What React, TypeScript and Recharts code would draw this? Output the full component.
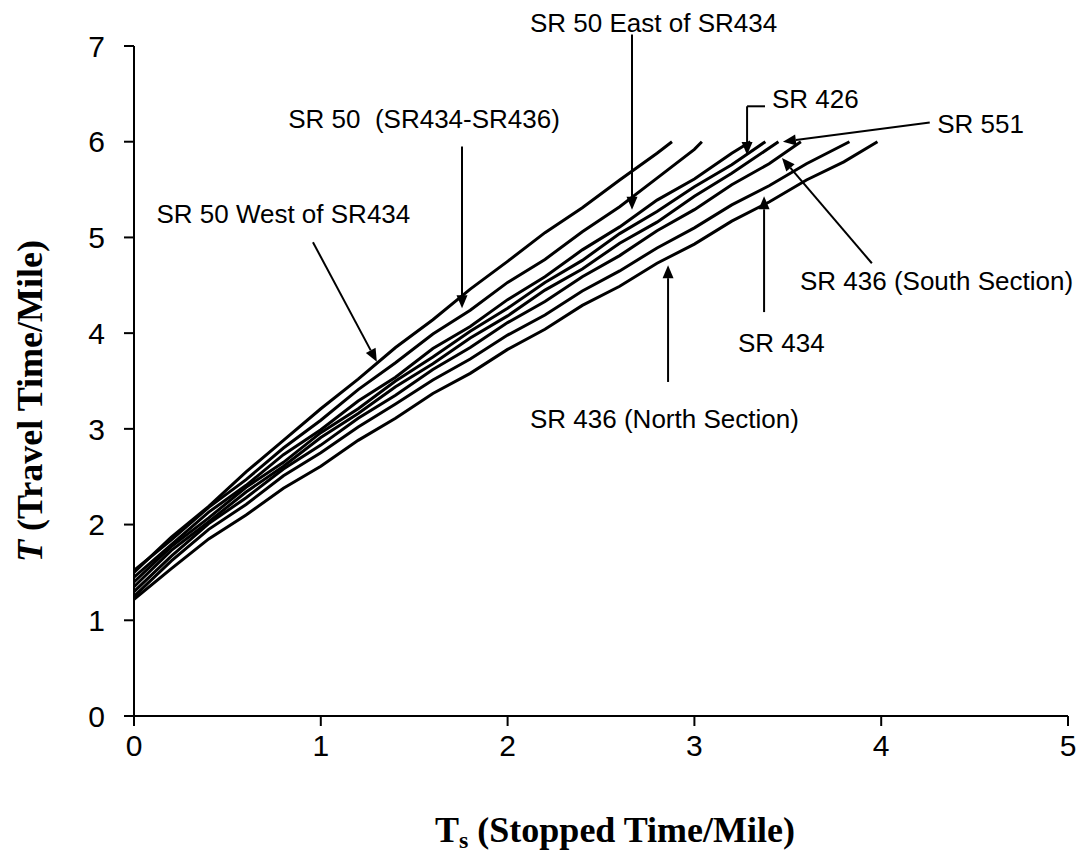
import React from 'react';
import { LineChart, Line, XAxis, YAxis, ReferenceLine, ReferenceDot } from 'recharts';

// ---- data (Ts = stopped time/mile, T = travel time/mile) ----
const westTs = [0, 0.2, 0.4, 0.6, 0.8, 1.0, 1.2, 1.4, 1.6, 1.8, 2.0, 2.2, 2.4, 2.6, 2.8, 2.88];
const westT = [1.50, 1.87, 2.19, 2.55, 2.88, 3.21, 3.52, 3.85, 4.14, 4.46, 4.75, 5.05, 5.31, 5.60, 5.88, 6.00];

const midTs = [0, 0.2, 0.4, 0.6, 0.8, 1.0, 1.2, 1.4, 1.6, 1.8, 2.0, 2.2, 2.4, 2.6, 2.8, 3.0, 3.04];
const midT = [1.52, 1.84, 2.18, 2.47, 2.80, 3.09, 3.41, 3.69, 3.99, 4.24, 4.53, 4.77, 5.06, 5.32, 5.62, 5.92, 6.00];

const eastTs = [0, 0.2, 0.4, 0.6, 0.8, 1.0, 1.2, 1.4, 1.6, 1.8, 2.0, 2.2, 2.4, 2.6, 2.8, 3.0, 3.2, 3.30];
const eastT = [1.45, 1.79, 2.13, 2.41, 2.73, 2.99, 3.29, 3.54, 3.84, 4.07, 4.35, 4.59, 4.87, 5.11, 5.39, 5.61, 5.88, 6.00];

const sr426Ts = [0, 0.2, 0.4, 0.6, 0.8, 1.0, 1.2, 1.4, 1.6, 1.8, 2.0, 2.2, 2.4, 2.6, 2.8, 3.0, 3.2, 3.38];
const sr426T = [1.40, 1.77, 2.07, 2.39, 2.65, 2.96, 3.21, 3.50, 3.75, 4.02, 4.26, 4.53, 4.76, 5.04, 5.27, 5.53, 5.76, 6.00];

const sr551Ts = [0, 0.2, 0.4, 0.6, 0.8, 1.0, 1.2, 1.4, 1.6, 1.8, 2.0, 2.2, 2.4, 2.6, 2.8, 3.0, 3.2, 3.45];
const sr551T = [1.35, 1.73, 2.03, 2.34, 2.61, 2.91, 3.16, 3.44, 3.68, 3.95, 4.18, 4.45, 4.67, 4.94, 5.16, 5.43, 5.67, 6.00];

const southTs = [0, 0.2, 0.4, 0.6, 0.8, 1.0, 1.2, 1.4, 1.6, 1.8, 2.0, 2.2, 2.4, 2.6, 2.8, 3.0, 3.2, 3.4, 3.57];
const southT = [1.30, 1.67, 2.01, 2.28, 2.58, 2.83, 3.11, 3.35, 3.62, 3.85, 4.11, 4.33, 4.59, 4.81, 5.07, 5.29, 5.55, 5.77, 6.00];

const sr434Ts = [0, 0.2, 0.4, 0.6, 0.8, 1.0, 1.2, 1.4, 1.6, 1.8, 2.0, 2.2, 2.4, 2.6, 2.8, 3.0, 3.2, 3.4, 3.6, 3.83];
const sr434T = [1.25, 1.62, 1.95, 2.21, 2.51, 2.75, 3.02, 3.26, 3.51, 3.73, 3.98, 4.19, 4.44, 4.65, 4.89, 5.10, 5.34, 5.54, 5.77, 6.00];

const northTs = [0, 0.2, 0.4, 0.6, 0.8, 1.0, 1.2, 1.4, 1.6, 1.8, 2.0, 2.2, 2.4, 2.6, 2.8, 3.0, 3.2, 3.4, 3.6, 3.8, 3.98];
const northT = [1.22, 1.54, 1.85, 2.10, 2.38, 2.61, 2.88, 3.11, 3.37, 3.58, 3.83, 4.04, 4.29, 4.49, 4.73, 4.93, 5.17, 5.37, 5.60, 5.79, 6.00];

const xTicks = [0, 1, 2, 3, 4, 5];
const yTicks = [0, 1, 2, 3, 4, 5, 6, 7];

const seriesList = [
  { name: 'SR 50 West of SR434', xs: westTs, ys: westT },
  { name: 'SR 50 (SR434-SR436)', xs: midTs, ys: midT },
  { name: 'SR 50 East of SR434', xs: eastTs, ys: eastT },
  { name: 'SR 426', xs: sr426Ts, ys: sr426T },
  { name: 'SR 551', xs: sr551Ts, ys: sr551T },
  { name: 'SR 436 (South Section)', xs: southTs, ys: southT },
  { name: 'SR 434', xs: sr434Ts, ys: sr434T },
  { name: 'SR 436 (North Section)', xs: northTs, ys: northT },
].map((s) => ({ name: s.name, data: s.xs.map((x, i) => ({ x, y: s.ys[i] })) }));

// ---- annotations (in data coordinates) ----
const labelTexts = [
  'SR 50 West of SR434',
  'SR 50  (SR434-SR436)',
  'SR 50 East of SR434',
  'SR 426',
  'SR 551',
  'SR 436 (South Section)',
  'SR 434',
  'SR 436 (North Section)',
];
const labelPos = [
  { x: 0.12, y: 5.15, anchor: 'start' },
  { x: 2.28, y: 6.14, anchor: 'end' },
  { x: 2.12, y: 7.15, anchor: 'start' },
  { x: 3.415, y: 6.35, anchor: 'start' },
  { x: 4.30, y: 6.09, anchor: 'start' },
  { x: 3.565, y: 4.45, anchor: 'start' },
  { x: 3.233, y: 3.80, anchor: 'start' },
  { x: 2.12, y: 3.01, anchor: 'start' },
];
const arrows = [
  { from: [0.958, 4.95], to: [1.30, 3.70], head: true },
  { from: [1.756, 5.95], to: [1.756, 4.26], head: true },
  { from: [2.666, 7.12], to: [2.666, 5.29], head: true },
  { from: [3.378, 6.37], to: [3.282, 6.37], head: false },
  { from: [3.282, 6.37], to: [3.282, 5.86], head: true },
  { from: [4.26, 6.20], to: [3.474, 6.0], head: true },
  { from: [3.95, 4.73], to: [3.469, 5.83], head: true },
  { from: [3.373, 4.22], to: [3.373, 5.43], head: true },
  { from: [2.859, 3.49], to: [2.859, 4.71], head: true },
];

const SANS = 'Arial, "Liberation Sans", sans-serif';
const SERIF = '"Times New Roman", "Liberation Serif", serif';

const makeArrow = (head: boolean) => (props: any) => {
  const { x1, y1, x2, y2 } = props;
  if ([x1, y1, x2, y2].some((v) => typeof v !== 'number' || isNaN(v))) return <g />;
  const dx = x2 - x1;
  const dy = y2 - y1;
  const len = Math.sqrt(dx * dx + dy * dy) || 1;
  const ux = dx / len;
  const uy = dy / len;
  const hl = 13;
  const hw = 5.5;
  if (!head) {
    return <line x1={x1} y1={y1} x2={x2} y2={y2} stroke="#000" strokeWidth={2} />;
  }
  const bx = x2 - ux * hl;
  const by = y2 - uy * hl;
  const pts = `${x2},${y2} ${bx - uy * hw},${by + ux * hw} ${bx + uy * hw},${by - ux * hw}`;
  return (
    <g>
      <line x1={x1} y1={y1} x2={bx} y2={by} stroke="#000" strokeWidth={2} />
      <polygon points={pts} fill="#000" />
    </g>
  );
};

const makeText = (text: string, anchor: string) => (props: any) => {
  const { cx, cy } = props;
  return (
    <text x={cx} y={cy} textAnchor={anchor} fontFamily={SANS} fontSize={26} fill="#000" style={{ whiteSpace: 'pre' }}>
      {text}
    </text>
  );
};

const XTitle = (props: any) => {
  const vb = props.viewBox || { x: 134, y: 716, width: 934, height: 139 };
  const cx = vb.x + vb.width / 2 + 14;
  const y = vb.y + 126;
  return (
    <text x={cx} y={y} textAnchor="middle" fontFamily={SERIF} fontWeight="bold" fontSize={36} fill="#000">
      <tspan>T</tspan>
      <tspan fontSize={24} dy={6}>s</tspan>
      <tspan dy={-6}> (Stopped Time/Mile)</tspan>
    </text>
  );
};

const YTitle = (props: any) => {
  const vb = props.viewBox || { x: 0, y: 46, width: 134, height: 670 };
  const x = 42;
  const y = vb.y + vb.height / 2 + 20;
  return (
    <text x={x} y={y} transform={`rotate(-90, ${x}, ${y})`} textAnchor="middle" fontFamily={SERIF} fontWeight="bold" fontSize={36} fill="#000">
      <tspan fontStyle="italic">T</tspan>
      <tspan> (Travel Time/Mile)</tspan>
    </text>
  );
};

export default function App() {
  return (
    <div style={{ position: 'absolute', left: 0, top: 0, width: 1081, height: 855, background: '#fff' }}>
      <LineChart width={1081} height={855} margin={{ top: 46, right: 13, bottom: 0, left: 0 }}>
        <XAxis
          type="number"
          dataKey="x"
          domain={[0, 5]}
          ticks={xTicks}
          allowDataOverflow
          height={139}
          tickSize={10}
          tickMargin={9}
          axisLine={{ stroke: '#000', strokeWidth: 2 }}
          tickLine={{ stroke: '#000', strokeWidth: 2 }}
          tick={{ fill: '#000', fontSize: 30, fontFamily: SANS }}
          label={<XTitle />}
        />
        <YAxis
          type="number"
          dataKey="y"
          domain={[0, 7]}
          ticks={yTicks}
          allowDataOverflow
          width={134}
          tickSize={10}
          tickMargin={19}
          axisLine={{ stroke: '#000', strokeWidth: 2 }}
          tickLine={{ stroke: '#000', strokeWidth: 2 }}
          tick={{ fill: '#000', fontSize: 30, fontFamily: SANS }}
          label={<YTitle />}
        />
        {seriesList.map((s) => (
          <Line
            key={s.name}
            name={s.name}
            data={s.data}
            dataKey="y"
            type="linear"
            stroke="#000"
            strokeWidth={3}
            dot={false}
            activeDot={false}
            isAnimationActive={false}
          />
        ))}
        {arrows.map((a, i) => (
          <ReferenceLine
            key={`arrow-${i}`}
            segment={[{ x: a.from[0], y: a.from[1] }, { x: a.to[0], y: a.to[1] }]}
            ifOverflow="visible"
            stroke="#000"
            shape={makeArrow(a.head)}
          />
        ))}
        {labelTexts.map((t, i) => (
          <ReferenceDot
            key={`label-${i}`}
            x={labelPos[i].x}
            y={labelPos[i].y}
            r={0}
            ifOverflow="visible"
            shape={makeText(t, labelPos[i].anchor)}
          />
        ))}
      </LineChart>
    </div>
  );
}
